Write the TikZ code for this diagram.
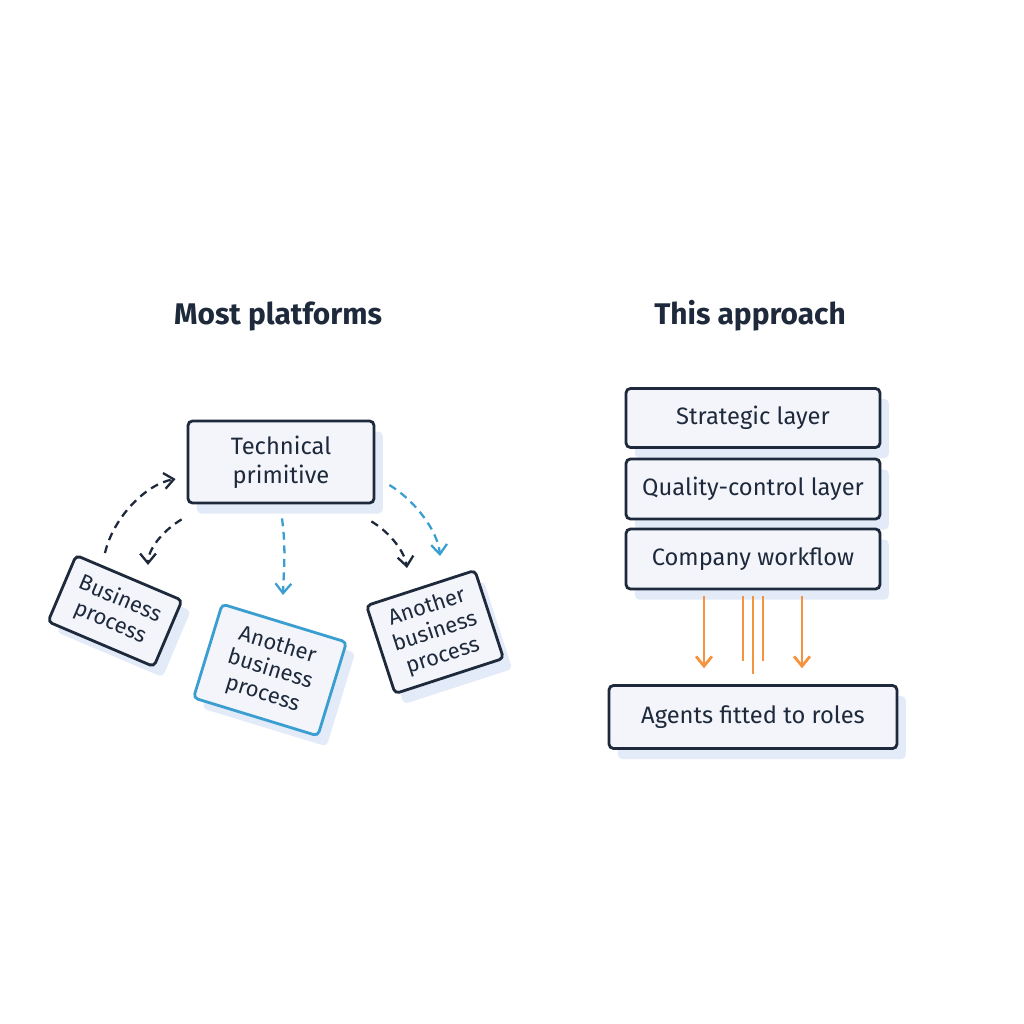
\documentclass[tikz,border=0pt]{standalone}
\usepackage{fontspec}
\setmainfont{Fira Sans}
\usetikzlibrary{arrows.meta,calc,shadows}
\definecolor{ink}{HTML}{1E2A3B}
\definecolor{skyline}{HTML}{3A9FD0}
\definecolor{boxfill}{HTML}{F3F5FB}
\definecolor{glow}{HTML}{E3EBF8}
\definecolor{flow}{HTML}{F5943F}

\tikzset{
  card/.style={draw=ink, line width=1.6pt, rounded corners=2.5pt, fill=boxfill,
    align=center, text=ink, inner sep=0pt,
    font=\fontsize{13.5}{16.5}\selectfont,
    drop shadow={shadow xshift=5pt, shadow yshift=-6pt, fill=glow, opacity=1}},
  tilted/.style={card, font=\fontsize{12.5}{14.5}\selectfont},
  heading/.style={text=ink, font=\fontsize{17}{20}\selectfont\bfseries},
  link/.style={line width=1.3pt, dash pattern=on 4.5pt off 3.2pt, ->},
  feed/.style={draw=flow, line width=1.6pt}
}

\begin{document}
\begin{tikzpicture}[x=0.02cm, y=-0.02cm, >={Straight Barb[length=5.5pt,width=9pt]}]
  \useasboundingbox[fill=white] (0,0) rectangle (1024,1024);

  % headings
  \node[heading] (most) at (278,316) {Most platforms};
  \node[heading] (this) at (750,316) {This approach};

  % left: one primitive, many processes
  \node[card, minimum width=3.72cm, minimum height=1.64cm] (tp) at (281,462) {Technical\\primitive};
  \node[tilted, rotate=-23, minimum width=2.3cm, minimum height=1.44cm] (bp) at (115,611) {Business\\process};
  \node[tilted, draw=skyline, rotate=-17, minimum width=2.6cm, minimum height=1.96cm] (abp) at (270,670) {Another\\business\\process};
  \node[tilted, rotate=18, minimum width=2.28cm, minimum height=1.85cm] (obp) at (435,632) {Another\\business\\process};

  \draw[link, ink] ($(bp.center)+(-10,-58)$) .. controls +(8,-35) and +(-30,5) .. ($(tp.west)+(-11,17)$);
  \draw[link, ink] ($(tp.south west)+(-5,15)$) .. controls +(-20,12) and +(0,-15) .. ($(bp.center)+(33,-46)$);
  \draw[link, skyline] ($(tp.south)+(1,14)$) .. controls +(4,30) and +(1,-30) .. ($(abp.center)+(13,-75)$);
  \draw[link, ink] ($(tp.south east)+(-4,17)$) .. controls +(20,12) and +(-2,-15) .. ($(obp.center)+(-28,-64)$);
  \draw[link, skyline] ($(tp.east)+(14,23)$) .. controls +(25,15) and +(-2,-25) .. ($(obp.center)+(5,-76)$);

  % right: layered stack
  \node[card, minimum width=5.08cm, minimum height=1.18cm] (sl) at (753,418) {Strategic layer};
  \node[card, minimum width=5.08cm, minimum height=1.2cm] (qc) at (753,489) {Quality-control layer};
  \node[card, minimum width=5.08cm, minimum height=1.2cm] (cw) at (753,559) {Company workflow};
  \node[card, minimum width=5.76cm, minimum height=1.26cm] (ag) at (753,717) {Agents fitted to roles};

  \draw[feed, ->, shorten <=3pt, shorten >=9pt] ($(cw.south)+(-49,0)$) -- ($(ag.north)+(-49,0)$);
  \draw[feed, ->, shorten <=3pt, shorten >=9pt] ($(cw.south)+(49,0)$) -- ($(ag.north)+(49,0)$);
  \draw[feed, shorten <=3pt, shorten >=13pt] ($(cw.south)+(-10,0)$) -- ($(ag.north)+(-10,0)$);
  \draw[feed, shorten <=3pt, shorten >=6pt] ($(cw.south)+(0,0)$) -- ($(ag.north)+(0,0)$);
  \draw[feed, shorten <=3pt, shorten >=13pt] ($(cw.south)+(10,0)$) -- ($(ag.north)+(10,0)$);
\end{tikzpicture}
\end{document}
